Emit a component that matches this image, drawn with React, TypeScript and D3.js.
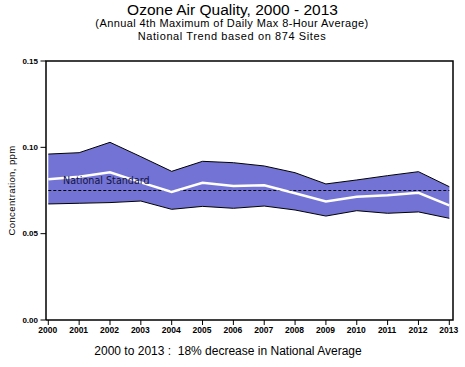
import React from "react";
import * as d3 from "d3";

const years = [2000, 2001, 2002, 2003, 2004, 2005, 2006, 2007, 2008, 2009, 2010, 2011, 2012, 2013];
const upper90 = [0.0961, 0.0969, 0.1029, 0.0946, 0.0861, 0.0919, 0.0911, 0.0892, 0.0853, 0.0788, 0.0811, 0.0836, 0.0859, 0.0772];
const lower10 = [0.0672, 0.0676, 0.068, 0.0689, 0.0641, 0.0658, 0.0647, 0.066, 0.0637, 0.0602, 0.0633, 0.0618, 0.0626, 0.0589];
const mean = [0.0815, 0.083, 0.0855, 0.0797, 0.0741, 0.0795, 0.0776, 0.078, 0.0734, 0.0687, 0.0714, 0.0722, 0.0737, 0.0664];
const standard = 0.075;
const yTicks = [0, 0.05, 0.1, 0.15];

const W = 465, H = 367;
const frame = { left: 46, right: 453, top: 61, bottom: 320 };

export default function App() {
  const x = d3.scaleLinear().domain([2000, 2013]).range([48.3, 449.3]);
  const y = d3.scaleLinear().domain([0, 0.15]).range([frame.bottom, frame.top]);

  const area = d3.area<number>()
    .x((_, i) => x(years[i]))
    .y0((_, i) => y(lower10[i]))
    .y1((d) => y(d));
  const line = d3.line<number>().x((_, i) => x(years[i])).y((d) => y(d));

  const tickFont = "'Liberation Sans Narrow', 'Arial Narrow', 'Liberation Sans', Arial, sans-serif";
  const font = "'Liberation Sans', Arial, sans-serif";

  return (
    <svg width={W} height={H} style={{ position: "absolute", left: 0, top: 0 }}>
      <rect x={0} y={0} width={W} height={H} fill="#fff" />
      <g fontFamily={font} fill="#000" textAnchor="middle">
        <text x={232.5} y={15} fontSize={15.5}>Ozone Air Quality, 2000 - 2013</text>
        <text x={232} y={27.2} fontSize={11} letterSpacing={0.4}>(Annual 4th Maximum of Daily Max 8-Hour Average)</text>
        <text x={232} y={39.9} fontSize={11} letterSpacing={0.6}>National Trend based on 874 Sites</text>
        <text x={228} y={355} fontSize={12} style={{ whiteSpace: "pre" }}>
          {"2000 to 2013 :  18% decrease in National Average"}
        </text>
        <text transform={`translate(15,${(frame.top + frame.bottom) / 2}) rotate(-90)`} fontSize={9.5} letterSpacing={0.4}>
          Concentration, ppm
        </text>
      </g>

      <path d={area(upper90) || ""} fill="#7373d6" stroke="none" />
      <path d={line(upper90) || ""} fill="none" stroke="#000" strokeWidth={1} />
      <path d={line(lower10) || ""} fill="none" stroke="#000" strokeWidth={1} />
      <line x1={x(2000)} x2={x(2013)} y1={y(standard)} y2={y(standard)} stroke="#000" strokeWidth={1} strokeDasharray="3,2" />
      <path d={line(mean) || ""} fill="none" stroke="#fff" strokeWidth={2.5} />
      <text x={63} y={183.5} fontFamily="'DejaVu Sans', Verdana, sans-serif" fontSize={9.6} fill="#14143f">
        National Standard
      </text>

      <path
        d={`M${frame.left},${frame.bottom}V${frame.top}H${frame.right}V${frame.bottom}H${frame.left}`}
        fill="none"
        stroke="#000"
        strokeWidth={1.5}
      />

      {yTicks.map((t) => (
        <g key={t}>
          <line x1={40.5} x2={frame.left} y1={y(t)} y2={y(t)} stroke="#000" strokeWidth={1} />
          <text x={38} y={y(t) + 2.5} textAnchor="end" fontFamily={tickFont} fontWeight="bold" fontSize={8}>
            {t.toFixed(2)}
          </text>
        </g>
      ))}
      {years.map((yr) => (
        <g key={yr}>
          <line x1={x(yr)} x2={x(yr)} y1={frame.bottom} y2={frame.bottom + 5} stroke="#000" strokeWidth={1} />
          <text x={x(yr) - 0.5} y={333} textAnchor="middle" fontFamily={tickFont} fontWeight="bold" fontSize={8.5}>
            {yr}
          </text>
        </g>
      ))}
    </svg>
  );
}
